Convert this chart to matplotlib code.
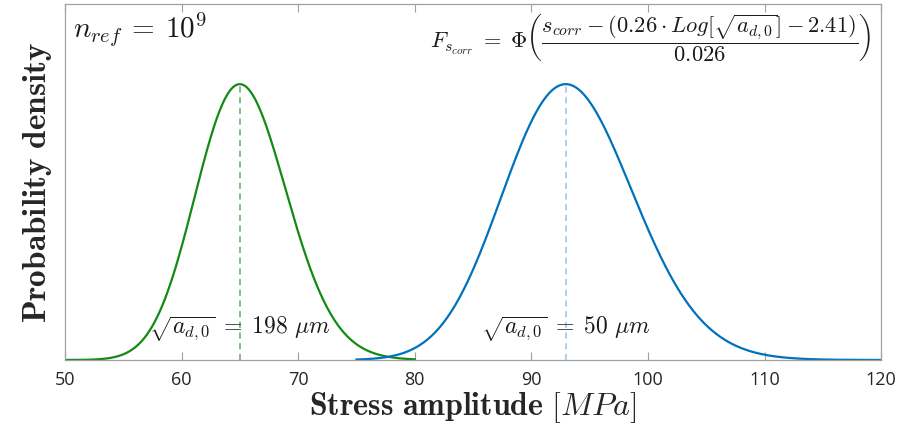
import numpy as np
import matplotlib.pyplot as plt

plt.rcParams['mathtext.fontset'] = 'cm'
plt.rcParams['font.family'] = ['Open Sans', 'DejaVu Sans']

# defect sizes sqrt(a_d,0) in um and the model from the figure
sizes = [198, 50]
coef_a = 0.26
coef_b = 2.41
sigma = 0.026
ranges = [(50, 80), (75, 120)]
colors = ['#138a13', '#0072BD']
dash_colors = ['#5fae5f', '#92c5ea']
labels = [r'$\sqrt{a_{d,0}}\;=\;198\ \mu m$', r'$\sqrt{a_{d,0}}\;=\;50\ \mu m$']

fig = plt.figure(figsize=(9, 4.32), dpi=100)
ax = fig.add_axes([0.0722, 0.1667, 0.9068, 0.824])

for size, (lo, hi), c, dc, lab in zip(sizes, ranges, colors, dash_colors, labels):
    mu = -(coef_a * np.log10(size) - coef_b)  # mean of log10(S)
    s = np.linspace(lo, hi, 400)
    pdf = np.exp(-0.5 * ((np.log10(s) - mu) / sigma) ** 2) / (sigma * np.sqrt(2 * np.pi))
    ax.plot(s, pdf, color=c, lw=1.6)
    peak_s = 10 ** mu
    ax.plot([peak_s, peak_s], [0, pdf.max()], color=dc, lw=1.1, ls=(0, (4, 3)))
    ax.text(peak_s, 1.7, lab, ha='center', va='center', fontsize=17, color='#1a1a1a')

ax.set_xlim(50, 120)
ax.set_ylim(0, 19.8)
ax.set_xticks(range(50, 121, 10))
ax.set_yticks([])
ax.tick_params(axis='x', direction='in', top=True, length=6, width=0.8,
               color='#a0a0a0', labelsize=13, labelcolor='#262626', pad=8)
for sp in ax.spines.values():
    sp.set_color('#a0a0a0')
    sp.set_linewidth(0.9)

ax.set_xlabel(r'$\mathbf{Stress\ amplitude}\ [MPa]$', fontsize=23, color='#262626', labelpad=1)
ax.set_ylabel(r'$\mathbf{Probability\ density}$', fontsize=24, color='#262626', labelpad=8)

ax.text(0.01, 0.93, r'$n_{ref}\:=\:10^9$', transform=ax.transAxes, fontsize=21,
        ha='left', va='center', color='#1a1a1a')
ax.text(0.988, 0.905,
        r'$F_{s_{corr}}\;=\;\Phi\left(\dfrac{s_{corr} - (0.26 \cdot Log[\sqrt{a_{d,0}}] - 2.41)}{0.026}\right)$',
        transform=ax.transAxes, fontsize=16.2, ha='right', va='center', color='#1a1a1a')

fig.savefig('out.png', dpi=100)
